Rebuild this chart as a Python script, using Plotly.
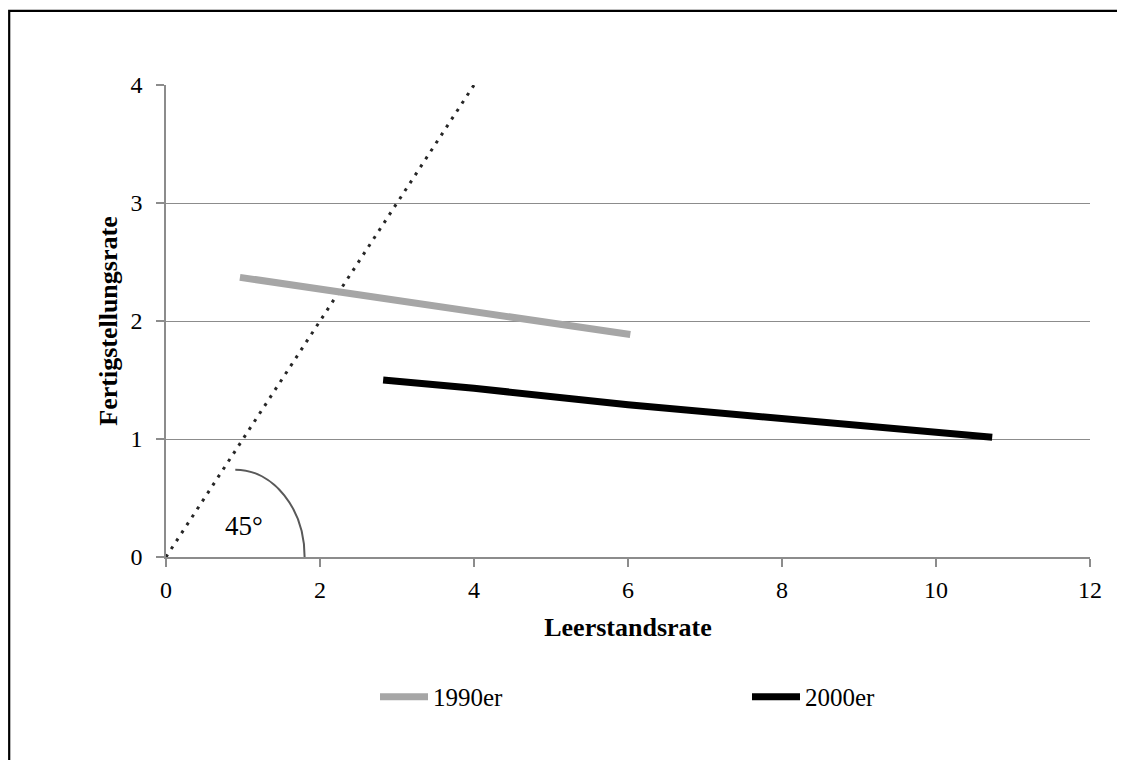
import plotly.graph_objects as go

# Data
x_1990 = [0.96, 2.0, 4.0, 6.03]
y_1990 = [2.37, 2.27, 2.075, 1.885]
x_2000 = [2.82, 4.0, 6.0, 8.0, 10.0, 10.73]
y_2000 = [1.50, 1.43, 1.29, 1.18, 1.07, 1.015]
x_diag = [0, 4]
y_diag = [0, 4]
x_ticks = [0, 2, 4, 6, 8, 10, 12]
y_ticks = [0, 1, 2, 3, 4]

FONT = "Liberation Serif, Times New Roman, serif"
GRID = "#8c8c8c"

fig = go.Figure()
fig.add_trace(go.Scatter(x=x_diag, y=y_diag, mode="lines", showlegend=False,
                         line=dict(color="#262626", width=3, dash="3px,6.5px"), hoverinfo="skip"))
fig.add_trace(go.Scatter(x=x_1990, y=y_1990, mode="lines", name="1990er",
                         line=dict(color="#a6a6a6", width=7)))
fig.add_trace(go.Scatter(x=x_2000, y=y_2000, mode="lines", name="2000er",
                         line=dict(color="#000000", width=7)))

k = 0.5523
cx, rx, ry = 0.9, 0.9, 0.74
arc = (f"M {cx},{ry} C {cx + rx * k},{ry} {cx + rx},{ry * k} {cx + rx},0")

fig.update_layout(
    width=1125, height=760,
    margin=dict(l=158, r=43, t=77, b=211),
    paper_bgcolor="white", plot_bgcolor="white",
    font=dict(family=FONT, size=24, color="black"),
    xaxis=dict(range=[0, 12], tickvals=x_ticks, showgrid=False, zeroline=False,
               showline=True, linecolor=GRID, linewidth=1.5,
               ticks="outside", ticklen=8, tickcolor=GRID, tickwidth=1.5,
               tickfont=dict(family=FONT, size=24, color="black"), ticklabelstandoff=2,
               title=dict(text="<b>Leerstandsrate</b>",
                          font=dict(family=FONT, size=26, color="black"), standoff=16)),
    yaxis=dict(range=[0, 4], tickvals=y_ticks, showgrid=True, gridcolor=GRID, gridwidth=1.3,
               zeroline=False, showline=True, linecolor=GRID, linewidth=1.5,
               ticks="outside", ticklen=8, tickcolor=GRID, tickwidth=1.5,
               tickfont=dict(family=FONT, size=24, color="black"), ticklabelstandoff=9,
               title=dict(text="<b>Fertigstellungsrate</b>",
                          font=dict(family=FONT, size=26, color="black"), standoff=5)),
    legend=dict(orientation="h", x=(380 - 5 - 166) / 924, xanchor="left", y=-0.2966,
                yanchor="middle",
                font=dict(family=FONT, size=25, color="black"), entrywidth=309,
                entrywidthmode="pixels", itemwidth=48, bgcolor="rgba(0,0,0,0)"),
    shapes=[
        dict(type="path", path=arc, xref="x", yref="y",
             line=dict(color="#595959", width=2)),
        dict(type="rect", xref="paper", yref="paper", x0=-0.1697, x1=1.2,
             y0=-0.6, y1=1.1572, line=dict(color="black", width=2.2),
             fillcolor="rgba(0,0,0,0)", layer="above"),
    ],
    annotations=[
        dict(x=1.01, y=0.26, xref="x", yref="y", text="45°", showarrow=False,
             font=dict(size=27, family=FONT, color="black"))
    ],
)

fig.write_html("out.html")
